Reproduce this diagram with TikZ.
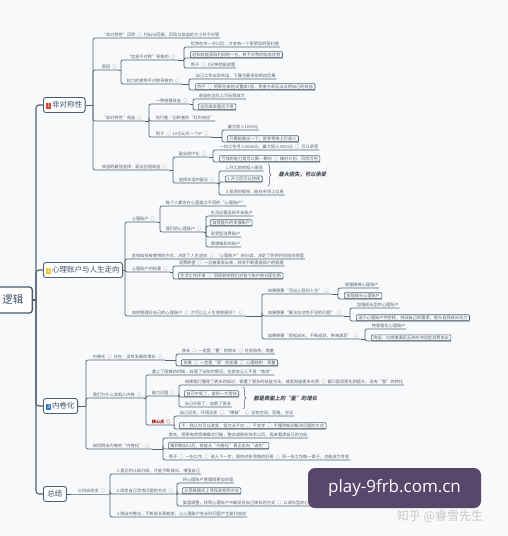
\documentclass[tikz,border=0pt]{standalone}
\usepackage{fontspec}
\setmainfont{Noto Sans CJK SC}
\newfontfamily\slfont[FakeSlant=0.2]{Noto Sans CJK SC}
\newfontfamily\wmfont{Open Sans}
\usetikzlibrary{decorations.pathreplacing}
\definecolor{bgc}{RGB}{248,249,251}
\definecolor{linec}{RGB}{84,96,110}
\definecolor{leafc}{RGB}{92,98,106}
\definecolor{topicc}{RGB}{78,92,110}
\definecolor{topictext}{RGB}{62,80,104}
\definecolor{wmc}{RGB}{88,70,108}
\definecolor{icona}{RGB}{214,64,52}
\definecolor{iconb}{RGB}{244,196,40}
\definecolor{iconc}{RGB}{52,120,210}
\newcommand{\leaffont}{\fontsize{4.2}{5}\selectfont}
\newcommand{\topicfont}{\fontsize{7.5}{8}\selectfont}
\newcommand{\sepo}{\enspace○\enspace}
\newcommand{\numicon}[2]{{\setlength{\fboxsep}{0.8pt}\colorbox{#1}{\textcolor{white}{\fontsize{5}{5}\selectfont #2}}}\,}
\tikzset{
	spine/.style={draw=linec, line width=1.1pt, rounded corners=3pt},
	branch/.style={draw=linec, line width=0.7pt, rounded corners=2pt},
	leaf/.style={anchor=south west, inner xsep=0.6pt, inner ysep=1pt, text=leafc, font=\leaffont},
	boxed/.style={leaf, draw=linec, line width=0.6pt, rounded corners=1pt, inner xsep=2pt},
	topic/.style={anchor=west, draw=topicc, line width=0.9pt, fill=white, rounded corners=2.5pt, inner xsep=3pt, minimum height=15pt, font=\topicfont, text=topictext},
	rootbox/.style={anchor=east, draw=topicc, line width=1.3pt, fill=white, rounded corners=3pt, minimum height=26pt, text width=40pt, align=right, inner xsep=9pt, font=\fontsize{10.5}{11}\selectfont, text=topictext},
	note/.style={anchor=west, text=leafc!80!black, font=\slfont\bfseries\fontsize{5.3}{6}\selectfont},
	brace/.style={draw=leafc, line width=0.5pt, decorate, decoration={brace, amplitude=3pt}},
}
\begin{document}
\begin{tikzpicture}[x=1pt, y=-1pt]
	\useasboundingbox (0,0) rectangle (508,536);
	\fill[bgc] (0,0) rectangle (508,536);
	\node[rootbox] (root) at (33,300) {逻辑};
	\node[topic] (n1) at (43,105) {\numicon{icona}{1}非对称性};
	\node[topic] (n2) at (43,270) {\numicon{iconb}{2}心理账户与人生走向};
	\node[topic] (n3) at (43,406) {\numicon{iconc}{3}内卷化};
	\node[topic, inner xsep=4pt] (n4) at (43,494) {总结};
	\coordinate (sp) at (36,300);
	\draw[spine] (root.east) -- (sp);
	\foreach \m in {n1,n2,n3,n4} \draw[spine] (sp) |- (\m.west);

	\coordinate (T1) at (93,105);
	\draw[branch] (n1.east) -- (T1);
	\node[leaf] (fx) at (101,38) {“非对称性”风险\sepo 付出与回报、风险与收益的大小并不对等};
	\node[leaf] (yy) at (101,70) {原因\sepo};
	\node[leaf] (xy) at (101,121) {“非对称性”效益\sepo};
	\node[leaf] (sy) at (101,170) {收益的最佳选择：副业创造收益\sepo};
	\foreach \m in {fx,yy,xy,sy} \draw[branch] (T1) |- (\m.south west) -- (\m.south east);

	\coordinate (Tyy) at (121,70);
	\draw[branch] (yy.south east) -- (Tyy);
	\node[leaf] (xx) at (126,60) {“信息不对称”导致的\sepo};
	\node[leaf] (ql) at (126,84) {权力的使用不对称导致的\sepo};
	\foreach \m in {xx,ql} \draw[branch] (Tyy) |- (\m.south west) -- (\m.south east);
	\coordinate (Txx) at (184,60);
	\draw[branch] (xx.south east) -- (Txx);
	\foreach \n/\y/\s/\t in {1/47/leaf/{优势在你一方以后，才会有一个更明显的获利感}, 2/58/boxed/{轻松就能获取利润的一方，有不对称的信息优势}, 3/68/leaf/{例子\sepo 1分钟就能读懂}} {
		\node[\s] (xx\n) at (190,\y) {\t};
		\draw[branch] (Txx) |- (xx\n.south west) -- (xx\n.south east);
	}
	\coordinate (Tql) at (189,84);
	\draw[branch] (ql.south east) -- (Tql);
	\foreach \n/\y/\s/\t in {1/79/leaf/{自己工作出现失误，下属也要承担相应后果}, 2/90/boxed/{例子\sepo 把职位由他设置成7层，受害方却无法证明自己的权益}} {
		\node[\s] (ql\n) at (195,\y) {\t};
		\draw[branch] (Tql) |- (ql\n.south west) -- (ql\n.south east);
	}

	\coordinate (Txy) at (149,121);
	\draw[branch] (xy.south east) -- (Txy);
	\node[leaf] (zz) at (155,104) {一种增值效益\sepo};
	\node[leaf] (hl) at (155,121) {先行者／创新者的“红利效应”};
	\node[leaf] (lz) at (155,137) {例子\sepo 10亿元买一个IP\sepo};
	\foreach \m in {zz,hl,lz} \draw[branch] (Txy) |- (\m.south west) -- (\m.south east);
	\coordinate (Tzz) at (193,104);
	\draw[branch] (zz.south east) -- (Tzz);
	\foreach \n/\y/\s/\t in {1/99/leaf/{收益在边际上可无限放大}, 2/110/boxed/{边际成本趋近于零}} {
		\node[\s] (zz\n) at (198,\y) {\t};
		\draw[branch] (Tzz) |- (zz\n.south west) -- (zz\n.south east);
	}
	\coordinate (Tlz) at (222,137);
	\draw[branch] (lz.south east) -- (Tlz);
	\foreach \n/\y/\s/\t in {1/130/leaf/{最大投入1000元}, 2/142/boxed/{只要能做出一个，就会带来上亿收入}} {
		\node[\s] (lz\n) at (227,\y) {\t};
		\draw[branch] (Tlz) |- (lz\n.south west) -- (lz\n.south east);
	}

	\coordinate (Tsy) at (173,170);
	\draw[branch] (sy.south east) -- (Tsy);
	\node[leaf] (fy) at (178,157) {副业的IP化\sepo};
	\node[leaf] (xz) at (178,183) {选择合适的副业\sepo};
	\foreach \m in {fy,xz} \draw[branch] (Tsy) |- (\m.south west) -- (\m.south east);
	\coordinate (Tfy) at (213,157);
	\draw[branch] (fy.south east) -- (Tfy);
	\foreach \n/\y/\s/\t in {1/150/leaf/{一份工作月入5000元，最大投入5000元\sepo 可以承受}, 2/162/boxed/{亏钱的能力是可以算一算的\sepo 做好计划，风险可控}} {
		\node[\s] (fy\n) at (219,\y) {\t};
		\draw[branch] (Tfy) |- (fy\n.south west) -- (fy\n.south east);
	}
	\coordinate (Txz) at (219,183);
	\draw[branch] (xz.south east) -- (Txz);
	\foreach \n/\y/\s/\t in {1/171/leaf/{1.开工前的投入很低}, 2/182/boxed/{2.开工后可以持续}, 3/195/leaf/{3.投资的股权，能在市场上交易}} {
		\node[\s] (xz\n) at (225,\y) {\t};
		\draw[branch] (Txz) |- (xz\n.south west) -- (xz\n.south east);
	}
	\draw[brace] (268,164) -- (268,186);
	\node[note] (ss) at (275,175) {最大损失，可以承受};

	\coordinate (T2) at (125,270);
	\draw[branch] (n2.east) -- (T2);
	\node[leaf] (zh) at (131,222) {心理账户\sepo};
	\node[leaf] (jq) at (131,259) {金钱如何被使用的方式，决定了人生走向\sepo “心理账户”的分类，决定了你把时间投向哪里};
	\node[leaf] (qz) at (131,272) {心理账户的权重\sepo};
	\node[leaf] (gl) at (131,316) {如何管理好自己的心理账户\sepo 才可以让人生变得更好？\sepo};
	\foreach \m in {zh,jq,qz,gl} \draw[branch] (T2) |- (\m.south west) -- (\m.south east);
	\coordinate (Tzh) at (160,222);
	\draw[branch] (zh.south east) -- (Tzh);
	\node[leaf] (zh1) at (165,206) {每个人都会在心里建立不同的“心理账户”};
	\node[leaf] (wd) at (165,232) {我们的心理账户\sepo};
	\foreach \m in {zh1,wd} \draw[branch] (Tzh) |- (\m.south west) -- (\m.south east);
	\coordinate (Twd) at (206,232);
	\draw[branch] (wd.south east) -- (Twd);
	\foreach \n/\y/\s/\t in {1/216/leaf/{生活必需品的开支账户}, 2/226/boxed/{自我提升的发展账户}, 3/237/leaf/{享受型消费账户}, 4/247/leaf/{情感维系的账户}} {
		\node[\s] (wd\n) at (210,\y) {\t};
		\draw[branch] (Twd) |- (wd\n.south west) -- (wd\n.south east);
	}
	\coordinate (Tqz) at (173,272);
	\draw[branch] (qz.south east) -- (Tqz);
	\foreach \n/\y/\s/\t in {1/266/leaf/{消费欲望\sepo 一旦被激发出来，就会不断提高账户的额度}, 2/279/boxed/{生活工作环境\sepo 同样影响我们对各个账户的分配比例}} {
		\node[\s] (qz\n) at (178,\y) {\t};
		\draw[branch] (Tqz) |- (qz\n.south west) -- (qz\n.south east);
	}
	\coordinate (Tgl) at (262,316);
	\draw[branch] (gl.south east) -- (Tgl);
	\node[leaf] (gl1) at (267,294) {如果想要“活出上层的人生”\sepo};
	\node[leaf] (gl2) at (267,316) {如果想要“解决主动性不足的问题”\sepo};
	\node[leaf] (gl3) at (267,339) {如果想要“轻松成长，不断成就，带来满足”\sepo};
	\foreach \m in {gl1,gl2,gl3} \draw[branch] (Tgl) |- (\m.south west) -- (\m.south east);
	\foreach \m/\x/\u/\a/\v/\b in {gl1/338/288/{增强精神心理账户}/299/{加强成长心理账户}, gl2/350/308/{加强成长型的心理账户}/321/{减少心理账户的空耗，挑战自己的需求，提升自我成长动力}, gl3/365/329/{特意强化心理账户}/341/{降低：与情绪满足无关的冲动型消费支出}} {
		\coordinate (T\m) at (\x,0 |- \m.south east);
		\draw[branch] (\m.south east) -- (T\m);
		\node[leaf] (\m a) at (\x+6,\u) {\a};
		\node[boxed] (\m b) at (\x+6,\v) {\b};
		\draw[branch] (T\m) |- (\m a.south west) -- (\m a.south east);
		\draw[branch] (T\m) |- (\m b.south west) -- (\m b.south east);
	}

	\coordinate (T3) at (86,406);
	\draw[branch] (n3.east) -- (T3);
	\node[leaf] (nj) at (92,360) {内卷化\sepo 外在：没有发展的增长\sepo};
	\node[leaf] (xr) at (92,398) {我们为什么会陷入内卷\sepo};
	\node[leaf] (tc) at (92,449) {如何跳出内卷的“内卷化”\sepo};
	\foreach \m in {nj,xr,tc} \draw[branch] (T3) |- (\m.south west) -- (\m.south east);
	\coordinate (Tnj) at (176,360);
	\draw[branch] (nj.south east) -- (Tnj);
	\foreach \n/\y/\s/\t in {1/354/leaf/{增长\sepo 一定是“量”的增长\sepo 社会结构：数量}, 2/366/boxed/{发展\sepo 一定是“质”的发展\sepo 心理结构：质量}} {
		\node[\s] (nj\n) at (181,\y) {\t};
		\draw[branch] (Tnj) |- (nj\n.south west) -- (nj\n.south east);
	}
	\coordinate (Txr) at (146,398);
	\draw[branch] (xr.south east) -- (Txr);
	\node[leaf] (xr1) at (151,375) {遇上了困难的时候，处理了当前的情况，也就会让人不再“焦虑”};
	\node[leaf] (nl) at (151,396) {能力问题\sepo};
	\node[leaf, text=red!65!black, font=\leaffont\bfseries] (hx) at (151,425) {核心点\sepo};
	\foreach \m in {xr1,nl,hx} \draw[branch] (Txr) |- (\m.south west) -- (\m.south east);
	\coordinate (Tnl) at (179,396);
	\draw[branch] (nl.south east) -- (Tnl);
	\foreach \n/\y/\s/\t in {1/385/leaf/{如果我们懂得了更多的知识，掌握了更多的技能方法，或是知道更多东西\sepo 都只是同质化的提升，没有“我”的转化}, 2/397/boxed/{自己中奖了，拿到一大笔钱}, 3/407/leaf/{自己升职了，加薪了很多}} {
		\node[\s] (nl\n) at (184,\y) {\t};
		\draw[branch] (Tnl) |- (nl\n.south west) -- (nl\n.south east);
	}
	\draw[brace] (243,387) -- (243,409);
	\node[note] (bm) at (250,398) {都是表面上的“量”的增长};
	\coordinate (Thx) at (174,425);
	\draw[branch] (hx.south east) -- (Thx);
	\foreach \n/\y/\s/\t in {1/416/leaf/{自己没变，环境没变\sepo “稀缺”\sepo 没有空间，思路、方法}, 2/429/boxed/{不，我认为可以改变，但方法不对\sepo 不会学\sepo 不懂用知识解决问题的方式}} {
		\node[\s] (hx\n) at (179,\y) {\t};
		\draw[branch] (Thx) |- (hx\n.south west) -- (hx\n.south east);
	}
	\coordinate (Ttc) at (163,449);
	\draw[branch] (tc.south east) -- (Ttc);
	\foreach \n/\y/\s/\t in {1/438/leaf/{首先，把原有的思维模式打破，整合成新的体系以后，再来看清自己的方向}, 2/449/boxed/{做到跳出以后，就能从“内卷化”真正走向“进化”}, 3/460/leaf/{例子\sepo 一份工作\sepo 进入下一步，保持对新领域的好奇\sepo 同一份工作做一辈子，也能成为专家}} {
		\node[\s] (tc\n) at (168,\y) {\t};
		\draw[branch] (Ttc) |- (tc\n.south west) -- (tc\n.south east);
	}

	\node[leaf] (hg) at (77,494) {以何去改变\sepo};
	\coordinate (T4) at (110,494);
	\draw[branch] (n4.east) -- (hg.south west) -- (hg.south east) -- (T4);
	\node[leaf] (zj1) at (116,474) {1.真正的认知升级，才能不断成长、增强自己};
	\node[leaf] (gb) at (116,494) {2.改变自己思考问题的方式\sepo};
	\node[leaf] (zj3) at (116,517) {3.跳出内卷化，不断成长和蜕变，让心理账户在长时间里产生复利效应};
	\foreach \m in {zj1,gb,zj3} \draw[branch] (T4) |- (\m.south west) -- (\m.south east);
	\coordinate (Tgb) at (177,494);
	\draw[branch] (gb.south east) -- (Tgb);
	\foreach \n/\y/\s/\t in {1/483/leaf/{将心理账户管理得更加合理}, 2/494/boxed/{从思维模式上寻找改变的方法}, 3/506/leaf/{复盘调整，找到心理账户中最适合自己增长的方式\sepo 以成长型的心理账户带动其他账户增长\sepo}} {
		\node[\s] (gb\n) at (182,\y) {\t};
		\draw[branch] (Tgb) |- (gb\n.south west) -- (gb\n.south east);
	}

	\node[fill=wmc, rounded corners=7pt, minimum width=173pt, minimum height=40pt, text=white, font=\wmfont\fontsize{17}{18}\selectfont] (wm) at (394.5,488) {play-9frb.com.cn};
	\node[text=black!22, font=\fontsize{12}{13}\selectfont] (zhihu) at (440,516) {知乎 @睿雪先生};
\end{tikzpicture}
\end{document}
